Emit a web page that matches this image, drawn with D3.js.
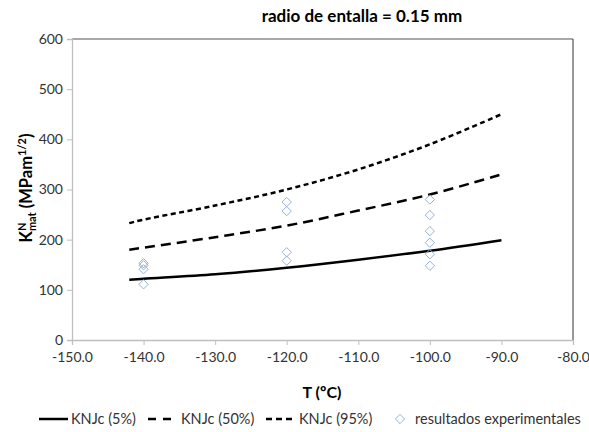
<!DOCTYPE html>
<html><head><meta charset="utf-8">
<script src="https://cdn.jsdelivr.net/npm/d3@7"></script>
<style>body{margin:0;background:#fff}svg{font-family:Lato,"Open Sans",sans-serif}</style>
</head><body><svg id="c" width="589" height="432"></svg>
<script>
const temps = [-142, -140, -130, -120, -110, -100, -90];
const knjc5 = [120, 122, 131, 144, 160, 178, 199];
const knjc50 = [180, 184, 205, 228, 258, 290, 330];
const knjc95 = [233, 240, 268, 300, 340, 390, 450];
const expT = [-140,-140,-140,-140,-120,-120,-120,-120,-100,-100,-100,-100,-100,-100];
const expK = [153,149,141,111,275,257,175,158,280,249,217,194,171,148];
const xTicks = [-150,-140,-130,-120,-110,-100,-90,-80];
const yTicks = [0,100,200,300,400,500,600];

const svg = d3.select('#c');
const L=72,R=573,T=39,B=340;
const x = d3.scaleLinear().domain([-150,-80]).range([L,R]);
const y = d3.scaleLinear().domain([0,600]).range([B,T]);

svg.append('line').attr('x1',L).attr('x2',R).attr('y1',T).attr('y2',T).attr('stroke','#8c8c8c').attr('stroke-width',1.5);
svg.append('line').attr('x1',R).attr('x2',R).attr('y1',T).attr('y2',B).attr('stroke','#333').attr('stroke-width',1);

const xa = svg.append('g').attr('transform',`translate(0,${B})`)
  .call(d3.axisBottom(x).tickValues(xTicks).tickFormat(d3.format('.1f')).tickSizeOuter(0).tickSize(5));
xa.select('.domain').attr('stroke','#bfbfbf').attr('stroke-width',1.3);
xa.selectAll('.tick line').attr('stroke','#bfbfbf');
xa.selectAll('text').attr('font-size',14).attr('fill','#333').attr('font-family','Lato').attr('dy','1.0em')
  .text(d=>d3.format('.1f')(d).replace('−','-'));

const ya = svg.append('g').attr('transform',`translate(${L},0)`)
  .call(d3.axisLeft(y).tickValues(yTicks).tickSizeOuter(0).tickSize(5));
ya.select('.domain').attr('stroke','#bfbfbf').attr('stroke-width',1.3);
ya.selectAll('.tick line').attr('stroke','#bfbfbf');
ya.selectAll('text').attr('font-size',14).attr('fill','#333').attr('font-family','Lato').attr('x',-9);

const line = d3.line().x((d,i)=>x(temps[i])).y(d=>y(d)).curve(d3.curveCatmullRom);
const series = [
  {v:knjc5, dash:null},
  {v:knjc50, dash:'10,6'},
  {v:knjc95, dash:'5,3.5'}
];
series.forEach(s=>{
  svg.append('path').attr('d',line(s.v)).attr('fill','none').attr('stroke','#000')
    .attr('stroke-width',2.5).attr('stroke-dasharray',s.dash);
});

const diamond = d3.symbol().type(d3.symbolDiamond2).size(55);
svg.append('g').selectAll('path').data(expK).join('path')
  .attr('d',diamond).attr('transform',(d,i)=>`translate(${x(expT[i])},${y(d)})`)
  .attr('fill','none').attr('stroke','#95b3d7').attr('stroke-width',1);

svg.append('text').attr('x',362).attr('y',22).attr('text-anchor','middle')
  .attr('font-size',17).attr('font-weight','bold').attr('fill','#000').text('radio de entalla = 0.15 mm');
svg.append('text').attr('x',322).attr('y',398).attr('text-anchor','middle')
  .attr('font-size',16).attr('font-weight','bold').text('T (ºC)');

// y label with stacked super/subscript
const yg = svg.append('g').attr('transform','translate(32,188) rotate(-90)').attr('font-weight','bold').attr('fill','#000');
const yl = yg.append('text').attr('text-anchor','middle').attr('font-size',16.5);
yl.append('tspan').text('K');
const tN = yl.append('tspan').attr('font-size',11).attr('dy',-6).text('N');
const tM = yl.append('tspan').attr('font-size',11).attr('dy',10).text('mat');
yl.append('tspan').attr('dy',-4).text(' (MPam');
yl.append('tspan').attr('font-size',11).attr('dy',-6).text('1/2');
yl.append('tspan').attr('dy',6).text(')');
tM.attr('dx', -tN.node().getComputedTextLength());

const lg = svg.append('g').attr('font-size',14.5).attr('fill','#333');
const items = [
  {x1:39,x2:68,tx:71,dash:null,label:'KNJc (5%)'},
  {x1:148,x2:177,tx:181,dash:'8,7',label:'KNJc (50%)'},
  {x1:266,x2:294,tx:299,dash:'6,4',label:'KNJc (95%)'}
];
items.forEach(it=>{
  lg.append('line').attr('x1',it.x1).attr('x2',it.x2).attr('y1',419).attr('y2',419)
    .attr('stroke','#000').attr('stroke-width',2.5).attr('stroke-dasharray',it.dash);
  lg.append('text').attr('x',it.tx).attr('y',424).text(it.label);
});
lg.append('path').attr('d',diamond).attr('transform','translate(400,419)')
  .attr('fill','none').attr('stroke','#95b3d7');
lg.append('text').attr('x',415).attr('y',424).text('resultados experimentales');
</script></body></html>
